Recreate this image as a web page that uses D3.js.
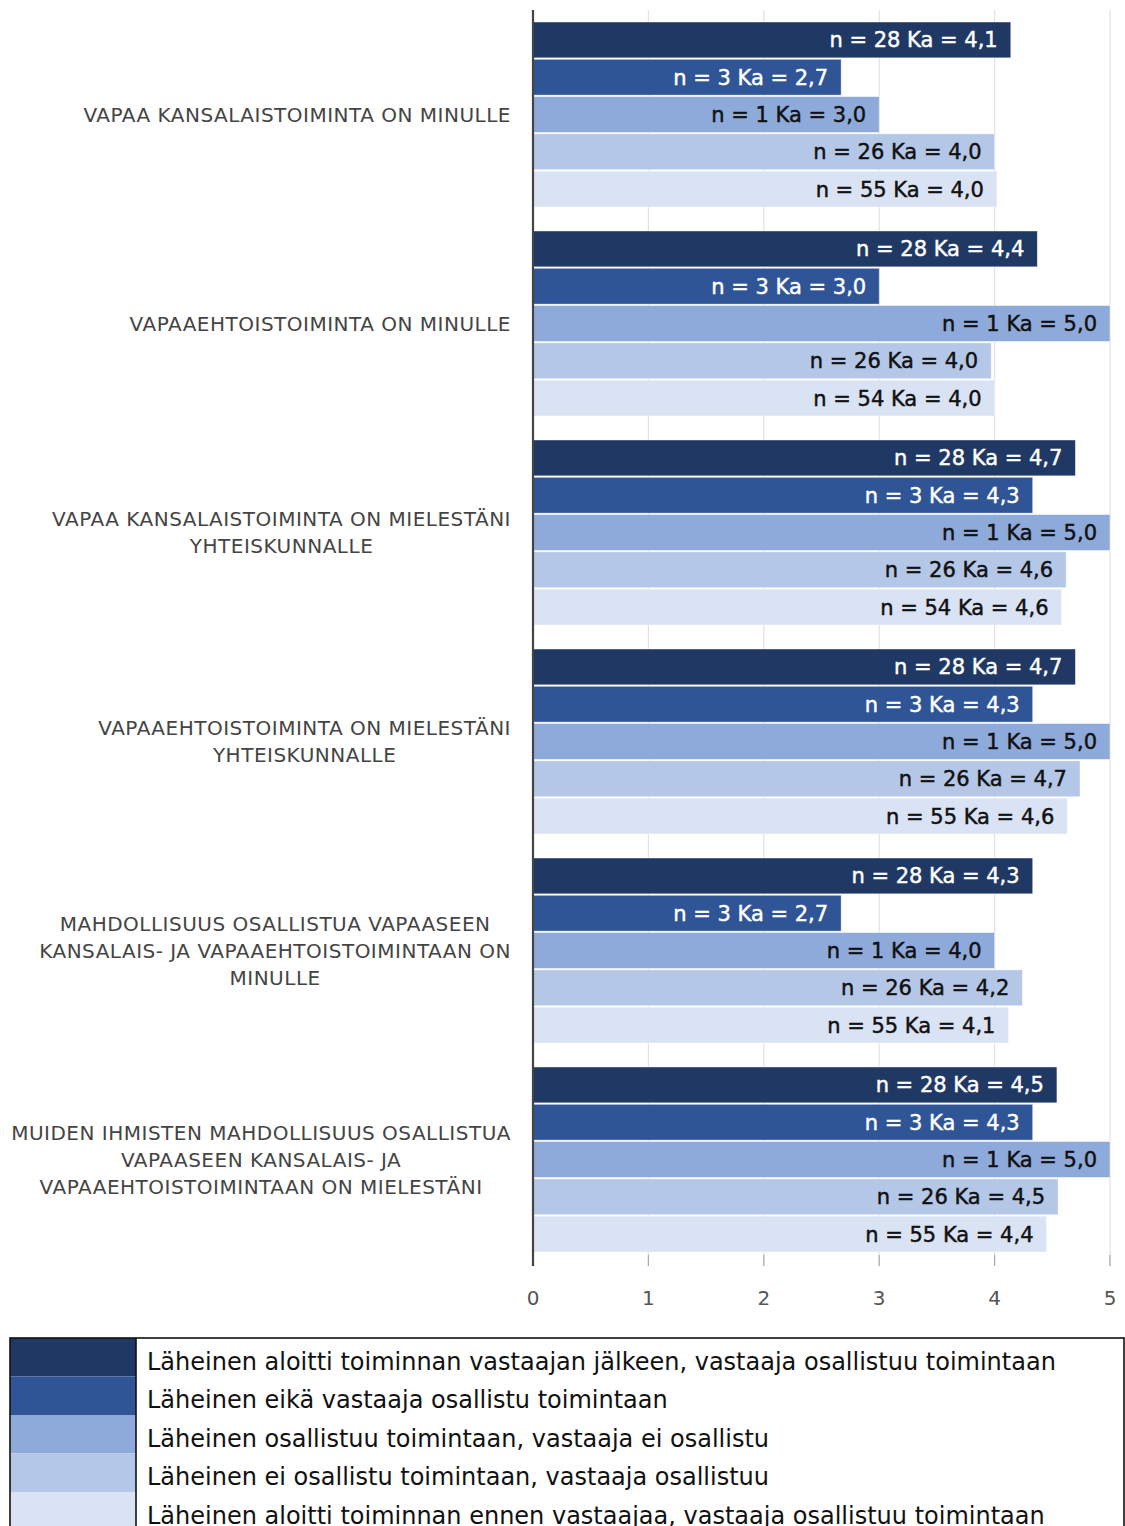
<!DOCTYPE html>
<html><head><meta charset="utf-8">
<script src="https://cdn.jsdelivr.net/npm/d3@7/dist/d3.min.js"></script>
<style>
html,body{margin:0;padding:0;background:#fff;}
svg{display:block;}
</style></head>
<body>
<svg id="chart" width="1125" height="1526"></svg>
<script>
const categories = [
  ["VAPAA KANSALAISTOIMINTA ON MINULLE"],
  ["VAPAAEHTOISTOIMINTA ON MINULLE"],
  ["VAPAA KANSALAISTOIMINTA ON MIELESTÄNI", "YHTEISKUNNALLE"],
  ["VAPAAEHTOISTOIMINTA ON MIELESTÄNI", "YHTEISKUNNALLE"],
  ["MAHDOLLISUUS OSALLISTUA VAPAASEEN", "KANSALAIS- JA VAPAAEHTOISTOIMINTAAN ON", "MINULLE"],
  ["MUIDEN IHMISTEN MAHDOLLISUUS OSALLISTUA", "VAPAASEEN KANSALAIS- JA", "VAPAAEHTOISTOIMINTAAN ON MIELESTÄNI"]
];
const seriesNames = [
  "Läheinen aloitti toiminnan vastaajan jälkeen, vastaaja osallistuu toimintaan",
  "Läheinen eikä vastaaja osallistu toimintaan",
  "Läheinen osallistuu toimintaan, vastaaja ei osallistu",
  "Läheinen ei osallistu toimintaan, vastaaja osallistuu",
  "Läheinen aloitti toiminnan ennen vastaajaa, vastaaja osallistuu toimintaan"
];
const seriesColors = ["#203864", "#2f5597", "#8eaadb", "#b4c7e7", "#dae3f3"];
const seriesTextColors = ["#ffffff", "#ffffff", "#111111", "#111111", "#111111"];
// bar lengths (means) per series, one value per category
const s1Values = [4.14, 4.37, 4.70, 4.70, 4.33, 4.54];
const s2Values = [2.67, 3.00, 4.33, 4.33, 2.67, 4.33];
const s3Values = [3.00, 5.00, 5.00, 5.00, 4.00, 5.00];
const s4Values = [4.00, 3.97, 4.62, 4.74, 4.24, 4.55];
const s5Values = [4.02, 4.00, 4.58, 4.63, 4.12, 4.45];
// n per series, one per category
const s1N = [28, 28, 28, 28, 28, 28];
const s2N = [3, 3, 3, 3, 3, 3];
const s3N = [1, 1, 1, 1, 1, 1];
const s4N = [26, 26, 26, 26, 26, 26];
const s5N = [55, 54, 54, 55, 55, 55];
// displayed means
const s1Ka = ["4,1", "4,4", "4,7", "4,7", "4,3", "4,5"];
const s2Ka = ["2,7", "3,0", "4,3", "4,3", "2,7", "4,3"];
const s3Ka = ["3,0", "5,0", "5,0", "5,0", "4,0", "5,0"];
const s4Ka = ["4,0", "4,0", "4,6", "4,7", "4,2", "4,5"];
const s5Ka = ["4,0", "4,0", "4,6", "4,6", "4,1", "4,4"];
const tickValues = [0, 1, 2, 3, 4, 5];

const allValues = [s1Values, s2Values, s3Values, s4Values, s5Values];
const allN = [s1N, s2N, s3N, s4N, s5N];
const allKa = [s1Ka, s2Ka, s3Ka, s4Ka, s5Ka];

const font = "'DejaVu Sans', Verdana, sans-serif";
const svg = d3.select("#chart");
const x = d3.scaleLinear().domain([0, 5]).range([533, 1110]);
const y0 = d3.scaleBand().domain(d3.range(categories.length)).range([10, 1264]).paddingInner(0.115).paddingOuter(0.0575);
const y1 = d3.scaleBand().domain(d3.range(5)).range([0, y0.bandwidth()]).paddingInner(0.04);

// gridlines
svg.append("g").selectAll("line").data(tickValues.slice(1)).join("line")
  .attr("x1", d => x(d)).attr("x2", d => x(d)).attr("y1", 10).attr("y2", 1266)
  .attr("stroke", "#e2e2e2").attr("stroke-width", 1.2);
// tick marks
svg.append("g").selectAll("line").data(tickValues.slice(1)).join("line")
  .attr("x1", d => x(d)).attr("x2", d => x(d)).attr("y1", 1255).attr("y2", 1266)
  .attr("stroke", "#aaaaaa").attr("stroke-width", 1.2);

const data = [];
categories.forEach((c, ci) => {
  for (let s = 0; s < 5; s++) {
    data.push({ci, s, v: allValues[s][ci], n: allN[s][ci], ka: allKa[s][ci]});
  }
});
const bars = svg.append("g").selectAll("g").data(data).join("g")
  .attr("transform", d => `translate(0,${y0(d.ci) + y1(d.s)})`);
bars.append("rect")
  .attr("x", x(0)).attr("y", 0)
  .attr("width", d => x(d.v) - x(0)).attr("height", y1.bandwidth())
  .attr("fill", d => seriesColors[d.s])
  .attr("stroke", "#ffffff").attr("stroke-opacity", 0.5).attr("stroke-width", 0.8);
bars.append("text")
  .attr("x", d => x(d.v) - 13).attr("y", y1.bandwidth() / 2)
  .attr("dy", "0.36em").attr("text-anchor", "end")
  .attr("font-family", font).attr("font-size", 21)
  .attr("fill", d => seriesTextColors[d.s])
  .attr("stroke", d => seriesTextColors[d.s]).attr("stroke-width", 0.45)
  .text(d => `n = ${d.n} Ka = ${d.ka}`);

// axis line
svg.append("line").attr("x1", x(0)).attr("x2", x(0)).attr("y1", 10).attr("y2", 1266)
  .attr("stroke", "#444").attr("stroke-width", 2.2);

// tick labels
svg.append("g").selectAll("text").data(tickValues).join("text")
  .attr("x", d => x(d)).attr("y", 1298).attr("dy", "0.36em")
  .attr("text-anchor", "middle").attr("font-family", font).attr("font-size", 20)
  .attr("fill", "#555").text(d => d);

// category labels
const labelRight = 511, lh = 27;
categories.forEach((lines, ci) => {
  const g = svg.append("g");
  const cy = y0(ci) + y0.bandwidth() / 2;
  const texts = g.selectAll("text").data(lines).join("text")
    .attr("y", (d, i) => cy + (i - (lines.length - 1) / 2) * lh)
    .attr("dy", "0.36em").attr("text-anchor", "middle")
    .attr("font-family", font).attr("font-size", 20).attr("letter-spacing", 0.5)
    .attr("fill", "#444")
    .text(d => d);
  let maxW = 0;
  texts.each(function () { maxW = Math.max(maxW, this.getComputedTextLength()); });
  texts.attr("x", labelRight - maxW / 2);
});

// legend
const lg = svg.append("g");
const rowH = 38.5, lTop = 1338;
lg.selectAll("rect.sw").data(seriesNames).join("rect").attr("class", "sw")
  .attr("x", 10).attr("y", (d, i) => lTop + i * rowH).attr("width", 126).attr("height", rowH)
  .attr("fill", (d, i) => seriesColors[i]);
lg.selectAll("text").data(seriesNames).join("text")
  .attr("x", 147).attr("y", (d, i) => lTop + i * rowH + rowH / 2 + 4).attr("dy", "0.36em")
  .attr("font-family", font).attr("font-size", 24).attr("fill", "#111")
  .text(d => d);
lg.append("rect").attr("x", 10).attr("y", lTop).attr("width", 1114).attr("height", 5 * rowH + 10)
  .attr("fill", "none").attr("stroke", "#111").attr("stroke-width", 1.6);
lg.append("line").attr("x1", 136).attr("x2", 136).attr("y1", lTop).attr("y2", lTop + 5 * rowH + 10)
  .attr("stroke", "#111").attr("stroke-width", 1.6);
</script>
</body></html>
